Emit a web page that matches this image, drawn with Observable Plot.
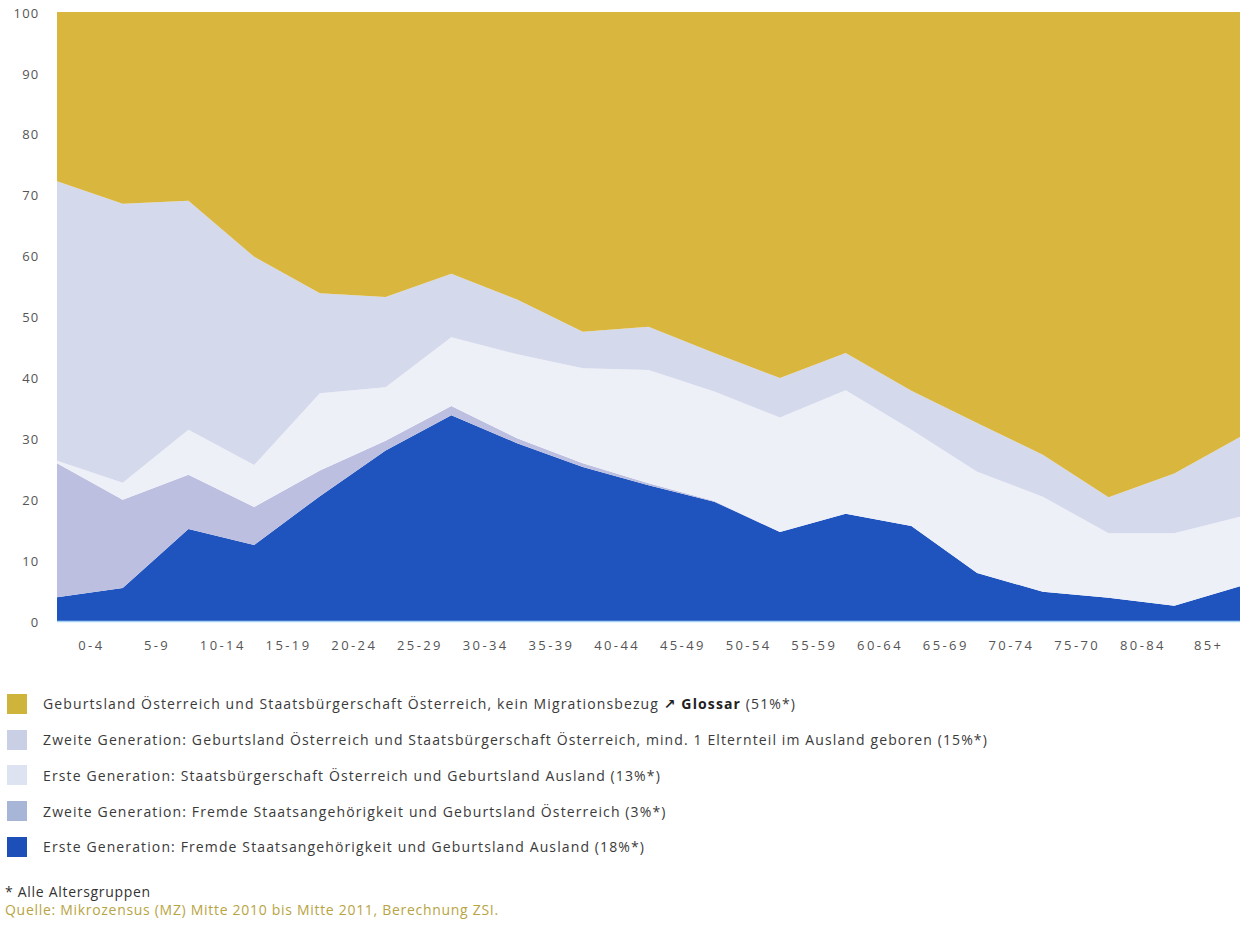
<!DOCTYPE html>
<html>
<head>
<meta charset="utf-8">
<script src="https://cdn.jsdelivr.net/npm/d3@7"></script>
<script src="https://cdn.jsdelivr.net/npm/@observablehq/plot@0.6"></script>
<style>
  html, body { margin: 0; padding: 0; background: #ffffff; }
  body { width: 1249px; height: 925px; overflow: hidden; font-family: "Open Sans", "DejaVu Sans", sans-serif; }
  #chart svg g[aria-label="y-axis tick label"] text { letter-spacing: 1.2px; }
  #chart svg g[aria-label="x-axis tick label"] text { letter-spacing: 2.4px; }
  #legend { position: absolute; left: 7px; top: 686px; }
  .row { display: flex; align-items: center; height: 35.75px; }
  .sw { width: 20px; height: 20px; margin-right: 16px; flex: none; }
  .lab { font-size: 14px; color: #3a3a3a; letter-spacing: 1.12px; }
  .lab b { color: #222; }
  #notes { position: absolute; left: 5px; top: 883px; font-size: 14px; line-height: 18px; letter-spacing: 0.7px; }
  #notes .n1 { color: #333; }
  #notes .n2 { color: #b8a443; }
</style>
</head>
<body>
<div id="chart"></div>
<div id="legend"></div>
<div id="notes"><div class="n1">* Alle Altersgruppen</div><div class="n2">Quelle: Mikrozensus (MZ) Mitte 2010 bis Mitte 2011, Berechnung ZSI.</div></div>
<script>
// Age-group tick labels (as printed in the original, incl. "75-70")
const ageLabels = ["0-4","5-9","10-14","15-19","20-24","25-29","30-34","35-39","40-44","45-49","50-54","55-59","60-64","65-69","70-74","75-70","80-84","85+"];

// Series names (legend text) bottom-to-top stacking order
const seriesNames = [
  "Erste Generation: Fremde Staatsangehörigkeit und Geburtsland Ausland (18%*)",
  "Zweite Generation: Fremde Staatsangehörigkeit und Geburtsland Österreich (3%*)",
  "Erste Generation: Staatsbürgerschaft Österreich und Geburtsland Ausland (13%*)",
  "Zweite Generation: Geburtsland Österreich und Staatsbürgerschaft Österreich, mind. 1 Elternteil im Ausland geboren (15%*)",
  "Geburtsland Österreich und Staatsbürgerschaft Österreich, kein Migrationsbezug"
];
const seriesColors = ["#1f54bf", "#bcbfe0", "#eef0f8", "#d5d9ec", "#d9b63e"];
const legendSwatch = ["#1d4fb8", "#a7b5d6", "#dde3f0", "#c9d0e6", "#cfb43c"];

// Values (percent) at the 19 vertices of the area chart
const ersteFremd   = [3.9, 5.4, 15.1, 12.5, 20.5, 28.0, 33.8, 29.2, 25.3, 22.3, 19.6, 14.6, 17.6, 15.6, 7.9, 4.8, 3.8, 2.5, 5.7];
const zweiteFremd  = [22.0, 14.5, 8.9, 6.2, 4.2, 1.6, 1.5, 0.8, 0.6, 0.3, 0.1, 0, 0, 0, 0, 0, 0, 0, 0];
const ersteOest    = [0.4, 2.8, 7.4, 6.9, 12.7, 8.8, 11.3, 13.8, 15.6, 18.6, 18.0, 18.8, 20.3, 15.8, 16.6, 15.6, 10.6, 11.9, 11.4];
const zweiteOest   = [45.9, 45.8, 37.6, 34.2, 16.4, 14.8, 10.4, 9.0, 6.0, 7.1, 6.3, 6.5, 6.1, 6.4, 8.0, 6.9, 5.9, 9.8, 13.1];
const keinMigr     = [27.8, 31.5, 31.0, 40.2, 46.2, 46.8, 43.0, 47.2, 52.5, 51.7, 56.0, 60.1, 56.0, 62.2, 67.5, 72.7, 79.7, 75.8, 69.8];

const seriesValues = [ersteFremd, zweiteFremd, ersteOest, zweiteOest, keinMigr];
const yTicks = [0,10,20,30,40,50,60,70,80,90,100];

const data = [];
seriesValues.forEach((vals, s) => {
  vals.forEach((v, i) => data.push({i, value: v, series: seriesNames[s]}));
});

const tickPos = ageLabels.map((_, k) => k + 0.5);

const chart = Plot.plot({
  width: 1249,
  height: 660,
  marginLeft: 57,
  marginRight: 9,
  marginTop: 12,
  marginBottom: 39,
  style: { fontFamily: "'Open Sans', 'DejaVu Sans', sans-serif", fontSize: "13px", color: "#555", background: "transparent" },
  x: { domain: [0, 18] },
  y: { domain: [0, 100] },
  color: { domain: seriesNames, range: seriesColors },
  marks: [
    Plot.areaY(data, { x: "i", y: "value", fill: "series", z: "series" }),
    Plot.ruleY([0], { stroke: "#a9d2f2", strokeWidth: 1.5 }),
    Plot.axisY(yTicks, { tickSize: 0, tickPadding: 18, dy: 1, fill: "#555", label: null }),
    Plot.axisX(tickPos, { tickSize: 0, tickPadding: 19, dx: 1, tickFormat: (d) => ageLabels[Math.round(d - 0.5)], fill: "#555", label: null })
  ]
});
document.getElementById("chart").appendChild(chart);

// Legend (top to bottom as in original)
const legend = document.getElementById("legend");
const legendOrder = [4, 3, 2, 1, 0];
legendOrder.forEach((s) => {
  const row = document.createElement("div");
  row.className = "row";
  const sw = document.createElement("div");
  sw.className = "sw";
  sw.style.background = legendSwatch[s];
  const lab = document.createElement("div");
  lab.className = "lab";
  if (s === 4) {
    lab.innerHTML = seriesNames[s] + " <b>↗ Glossar</b> (51%*)";
  } else {
    lab.textContent = seriesNames[s];
  }
  row.appendChild(sw);
  row.appendChild(lab);
  legend.appendChild(row);
});
</script>
</body>
</html>
